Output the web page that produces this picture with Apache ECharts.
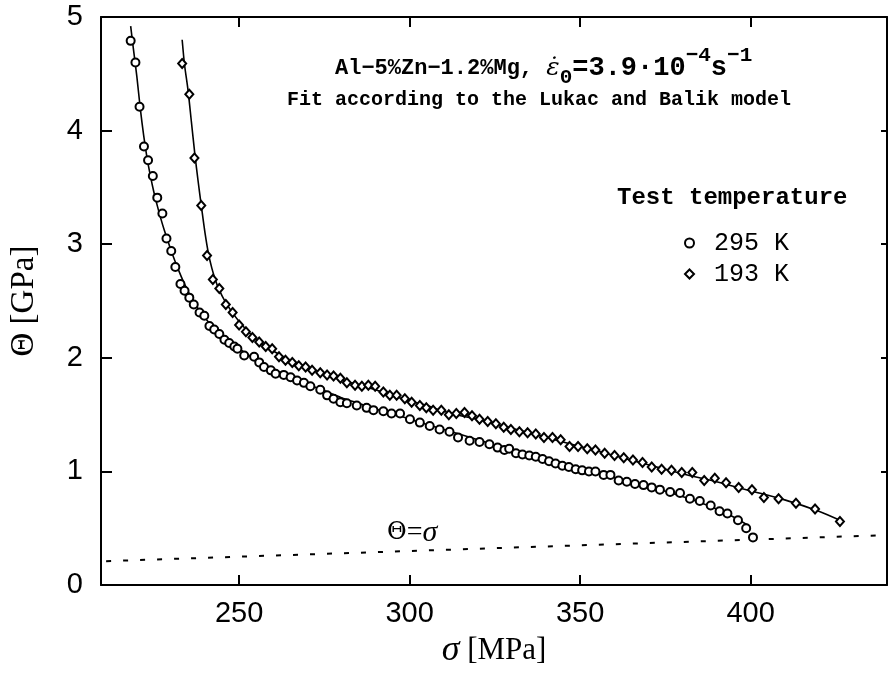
<!DOCTYPE html>
<html><head><meta charset="utf-8">
<script src="https://cdn.jsdelivr.net/npm/echarts@6/dist/echarts.min.js"></script>
<style>html,body{margin:0;padding:0;background:#fff}#c{width:890px;height:674px}</style>
</head><body><div id="c"></div>
<script>
// ---- data ----
const xTickValues = [250, 300, 350, 400];
const seriesNames = ['295 K', '193 K'];
const pts295 = [[218.2,4.79],[219.6,4.60],[220.8,4.21],[222.1,3.86],[223.3,3.74],[224.7,3.60],[226.0,3.41],[227.5,3.27],[228.7,3.05],[230.1,2.94],[231.3,2.80],[232.8,2.65],[234.0,2.59],[235.4,2.53],[236.7,2.47],[238.4,2.40],[239.8,2.37],[241.3,2.28],[242.7,2.25],[244.2,2.21],[245.7,2.16],[247.1,2.13],[248.6,2.10],[249.5,2.08],[251.5,2.02],[254.4,2.01],[255.9,1.96],[257.3,1.92],[259.3,1.89],[260.7,1.86],[263.1,1.85],[265.1,1.83],[267.0,1.80],[269.0,1.78],[270.9,1.75],[273.8,1.72],[275.8,1.67],[277.7,1.64],[279.7,1.61],[281.6,1.60],[284.5,1.58],[287.4,1.56],[289.4,1.54],[292.3,1.53],[294.7,1.51],[297.2,1.51],[300.1,1.46],[303.0,1.43],[305.9,1.40],[308.8,1.37],[311.7,1.35],[314.2,1.30],[317.6,1.27],[320.5,1.26],[323.4,1.24],[325.8,1.21],[327.8,1.19],[329.2,1.20],[331.2,1.16],[333.1,1.15],[335.1,1.14],[337.0,1.13],[339.0,1.11],[340.9,1.09],[342.8,1.07],[344.8,1.05],[346.7,1.04],[348.7,1.02],[350.6,1.01],[352.6,1.00],[354.5,1.00],[356.9,0.97],[358.9,0.97],[361.3,0.92],[363.7,0.91],[366.1,0.89],[368.6,0.88],[371.0,0.86],[373.4,0.84],[376.4,0.82],[379.3,0.81],[382.2,0.76],[385.1,0.74],[388.3,0.70],[390.9,0.65],[393.2,0.63],[396.3,0.57],[398.7,0.50],[400.7,0.42]];
const pts193 = [[233.3,4.59],[235.4,4.32],[236.9,3.76],[238.9,3.34],[240.6,2.90],[242.3,2.69],[244.2,2.61],[246.1,2.47],[248.1,2.40],[250.0,2.29],[252.0,2.23],[253.9,2.18],[255.9,2.14],[257.8,2.10],[259.7,2.08],[261.7,2.01],[263.6,1.98],[265.6,1.96],[267.5,1.93],[269.5,1.92],[271.4,1.89],[273.8,1.87],[275.8,1.85],[277.7,1.84],[279.7,1.82],[281.6,1.78],[284.0,1.76],[286.0,1.75],[287.9,1.76],[289.9,1.75],[292.3,1.70],[294.2,1.67],[296.2,1.67],[298.6,1.64],[300.6,1.61],[303.0,1.58],[304.9,1.56],[306.9,1.54],[309.3,1.54],[311.5,1.50],[313.7,1.51],[316.1,1.52],[318.3,1.49],[320.5,1.46],[322.9,1.44],[325.3,1.42],[327.6,1.39],[329.7,1.37],[332.2,1.35],[334.6,1.34],[337.0,1.33],[339.4,1.30],[341.9,1.30],[344.3,1.28],[346.9,1.22],[349.4,1.22],[352.1,1.20],[354.5,1.19],[357.2,1.16],[360.1,1.14],[362.8,1.12],[365.5,1.10],[368.3,1.08],[371.0,1.04],[373.9,1.02],[376.8,1.01],[379.8,0.99],[382.9,0.99],[386.4,0.92],[389.5,0.94],[392.8,0.90],[396.5,0.86],[400.4,0.84],[403.9,0.77],[408.2,0.76],[413.3,0.72],[418.9,0.67],[426.2,0.56]];
const fit295 = [[218.2,4.92],[219,4.72],[220,4.48],[221,4.20],[222,3.96],[223,3.76],[224,3.60],[225,3.46],[226,3.34],[227,3.23],[228,3.13],[229,3.04],[230,2.95],[232,2.79],[234,2.65],[236,2.53],[238,2.43],[240,2.35],[243,2.25],[246,2.17],[250,2.08],[255,1.98],[260,1.90],[265,1.83],[270,1.77],[275,1.71],[280,1.65],[285,1.60],[290,1.55],[295,1.51],[300,1.46],[310,1.37],[320,1.28],[330,1.19],[340,1.11],[350,1.03],[360,0.95],[370,0.87],[380,0.78],[385,0.73],[390,0.67],[395,0.60],[399.6,0.52]];
const fit193 = [[233.3,4.80],[234,4.58],[235,4.36],[236,4.08],[237,3.80],[238,3.55],[239,3.32],[240,3.10],[241,2.92],[242,2.79],[243,2.69],[244,2.61],[246,2.49],[248,2.40],[250,2.32],[253,2.22],[256,2.14],[260,2.06],[265,1.98],[270,1.92],[275,1.86],[280,1.81],[285,1.76],[290,1.72],[295,1.67],[300,1.62],[305,1.58],[310,1.53],[315,1.49],[320,1.46],[325,1.42],[330,1.38],[335,1.34],[340,1.30],[345,1.26],[350,1.22],[360,1.14],[370,1.06],[380,0.98],[390,0.91],[400,0.83],[410,0.75],[420,0.65],[426.2,0.57]];
const identityLine = [[211,0.211],[440,0.44]];

// ---- chart ----
const chart = echarts.init(document.getElementById('c'), null, {renderer:'canvas'});
const black = '#000';
const labelFont = 'Liberation Sans';
const mono = 'Liberation Mono';
const serif = 'Liberation Serif';
const axisLine = {show:true, onZero:false, lineStyle:{color:black, width:2}};
const markerStyle = {color:'#fff', borderColor:black, borderWidth:2, opacity:1};

chart.setOption({
  animation:false,
  backgroundColor:'#fff',
  grid:{left:97, right:3, top:17, bottom:87, containLabel:false},
  xAxis:[{
    type:'value', min:209.5, max:440, position:'bottom',
    axisLine: axisLine,
    axisTick:{show:true, inside:true, length:10, customValues:xTickValues, lineStyle:{color:black,width:2}},
    axisLabel:{customValues:xTickValues, color:black, fontFamily:labelFont, fontSize:29, margin:14},
    splitLine:{show:false},
    name:'{i|σ} [MPa]', nameLocation:'middle', nameGap:47,
    nameTextStyle:{color:black, fontFamily:serif, fontSize:31, rich:{i:{fontFamily:serif, fontStyle:'italic', fontSize:36, color:black}}}
  },{
    type:'value', min:209.5, max:440, position:'top',
    axisLine: axisLine,
    axisTick:{show:true, inside:true, length:10, customValues:xTickValues, lineStyle:{color:black,width:2}},
    axisLabel:{show:false}, splitLine:{show:false}
  }],
  yAxis:[{
    type:'value', min:0, max:5, interval:1, position:'left',
    axisLine: axisLine,
    axisTick:{show:true, inside:true, length:11, lineStyle:{color:black,width:2}},
    axisLabel:{color:black, fontFamily:labelFont, fontSize:29, margin:18},
    splitLine:{show:false},
    name:'Θ [GPa]', nameLocation:'middle', nameGap:60, nameRotate:90,
    nameTextStyle:{color:black, fontFamily:serif, fontSize:33}
  },{
    type:'value', min:0, max:5, interval:1, position:'right',
    axisLine: axisLine,
    axisTick:{show:true, inside:true, length:6, lineStyle:{color:black,width:2}},
    axisLabel:{show:false}, splitLine:{show:false}
  }],
  legend:{
    data:seriesNames, orient:'vertical', left:679, top:225,
    itemWidth:9, itemHeight:9, itemGap:5,
    formatter: n => '{g|}{t|' + n + '}',
    textStyle:{color:black, fontFamily:mono, fontSize:25, lineHeight:26,
      rich:{g:{width:15}, t:{fontFamily:mono, fontSize:25, color:black}}}
  },
  series:[
    {type:'line', data:identityLine, showSymbol:false, silent:true,
      lineStyle:{color:black, width:2, type:[5,12]}},
    {type:'line', data:fit295, smooth:0.3, showSymbol:false, silent:true,
      lineStyle:{color:black, width:1.6}},
    {type:'line', data:fit193, smooth:0.3, showSymbol:false, silent:true,
      lineStyle:{color:black, width:1.6}},
    {name:seriesNames[0], type:'scatter', data:pts295, symbol:'circle', symbolSize:8, itemStyle:markerStyle, z:5},
    {name:seriesNames[1], type:'scatter', data:pts193, symbol:'diamond', symbolSize:[8,9], itemStyle:markerStyle, z:5}
  ],
  graphic:[
    {type:'text', x:335, y:68, style:{
      text:'{m|Al−5%Zn−1.2%Mg, }{e|ε̇}{sub|0}{n|=3.9·10}{sup|−4}{n|s}{sup|−1}',
      verticalAlign:'middle', fill:black,
      rich:{
        m:{fontFamily:mono, fontSize:22, fontWeight:'bold', color:black},
        n:{fontFamily:mono, fontSize:27, fontWeight:'bold', color:black},
        e:{fontFamily:'DejaVu Serif', fontStyle:'italic', fontSize:25, color:black},
        sub:{fontFamily:mono, fontSize:21, fontWeight:'bold', color:black, padding:[20,0,0,0]},
        sup:{fontFamily:mono, fontSize:21, fontWeight:'bold', color:black, padding:[0,0,24,0]}
      }}},
    {type:'text', x:287, y:100, style:{text:'Fit according to the Lukac and Balik model',
      font:'bold 20px "Liberation Mono"', fill:black, verticalAlign:'middle'}},
    {type:'text', x:617, y:198, style:{text:'Test temperature',
      font:'bold 24px "Liberation Mono"', fill:black, verticalAlign:'middle'}},
    {type:'text', x:387, y:533, style:{text:'{t|Θ}{q|=}{s|σ}', verticalAlign:'middle', fill:black,
      rich:{t:{fontFamily:'DejaVu Serif', fontSize:24, color:black},
            q:{fontFamily:serif, fontSize:28, color:black},
            s:{fontFamily:serif, fontStyle:'italic', fontSize:30, color:black}}}}
  ]
});
</script></body></html>
